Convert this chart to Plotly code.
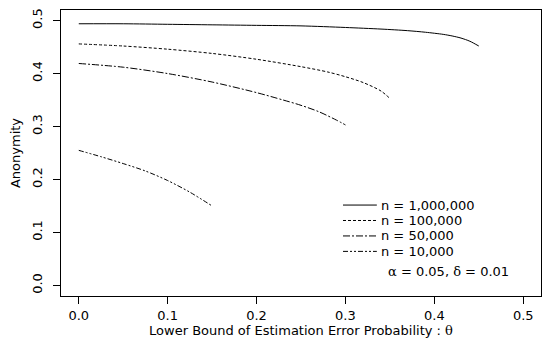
import plotly.graph_objects as go

# --- data ---
theta_1m = [0.0, 0.05, 0.10, 0.15, 0.20, 0.25, 0.30, 0.34, 0.37, 0.39, 0.41, 0.42, 0.43, 0.44, 0.45]
anon_1m = [0.494, 0.494, 0.493, 0.492, 0.491, 0.490, 0.487, 0.484, 0.481, 0.478, 0.474, 0.471, 0.467, 0.461, 0.452]

theta_100k = [0.0, 0.05, 0.10, 0.15, 0.20, 0.25, 0.28, 0.30, 0.32, 0.34, 0.35]
anon_100k = [0.456, 0.452, 0.446, 0.438, 0.427, 0.413, 0.403, 0.394, 0.383, 0.367, 0.353]

theta_50k = [0.0, 0.05, 0.10, 0.15, 0.20, 0.23, 0.25, 0.27, 0.29, 0.30]
anon_50k = [0.419, 0.412, 0.400, 0.384, 0.364, 0.350, 0.340, 0.328, 0.312, 0.303]

theta_10k = [0.0, 0.025, 0.05, 0.075, 0.10, 0.125, 0.15]
anon_10k = [0.255, 0.243, 0.230, 0.216, 0.198, 0.176, 0.150]

series_labels = ["n = 1,000,000", "n = 100,000", "n = 50,000", "n = 10,000"]
x_ticks = [0.0, 0.1, 0.2, 0.3, 0.4, 0.5]
y_ticks = [0.0, 0.1, 0.2, 0.3, 0.4, 0.5]
x_ticklabels = ["0.0", "0.1", "0.2", "0.3", "0.4", "0.5"]
y_ticklabels = ["0.0", "0.1", "0.2", "0.3", "0.4", "0.5"]

dashes = ["solid", "3px,2px", "7px,2px,2px,2px", "5px,2px,2px,2px,2px,2px"]
FONT = "DejaVu Sans, Verdana, sans-serif"
SERIF = "DejaVu Serif, Liberation Serif, serif"
FS = 13

fig = go.Figure()
xs = [theta_1m, theta_100k, theta_50k, theta_10k]
ys = [anon_1m, anon_100k, anon_50k, anon_10k]
for x, y, lab, d in zip(xs, ys, series_labels, dashes):
    fig.add_trace(go.Scatter(x=x, y=y, mode="lines", name=lab,
                             line=dict(color="black", width=1, dash=d, shape="spline", smoothing=0.8),
                             showlegend=False, hoverinfo="skip"))

# manual legend (R style, no box)
leg_y = [0.318, 0.264, 0.210, 0.156]
for lab, d, yy in zip(series_labels, dashes, leg_y):
    fig.add_shape(type="line", xref="paper", yref="paper", x0=0.5875, x1=0.658, y0=yy, y1=yy,
                  line=dict(color="black", width=1, dash=d))
    fig.add_annotation(xref="paper", yref="paper", x=0.662, y=yy, text=lab, showarrow=False,
                       xanchor="left", yanchor="middle", font=dict(family=FONT, size=FS, color="black"))
fig.add_annotation(xref="paper", yref="paper", x=0.677, y=0.087,
                   text=f'<span style="font-family:{SERIF}">α</span> = 0.05, <span style="font-family:{SERIF}">δ</span> = 0.01',
                   showarrow=False, xanchor="left", yanchor="middle", font=dict(family=FONT, size=FS, color="black"))

fig.update_layout(
    width=544, height=339,
    margin=dict(l=61, r=3, t=10, b=43),
    paper_bgcolor="white", plot_bgcolor="white",
    font=dict(family=FONT, size=FS, color="black"),
    showlegend=False,
)
fig.update_xaxes(range=[-0.02, 0.52], tickvals=x_ticks, ticktext=x_ticklabels,
                 ticks="outside", ticklen=7, tickwidth=1, tickcolor="black",
                 showline=True, mirror=True, linecolor="black", linewidth=1,
                 showgrid=False, zeroline=False,
                 title=dict(text=f'Lower Bound of Estimation Error Probability : <span style="font-family:{SERIF}">θ</span>',
                            font=dict(family=FONT, size=FS), standoff=3),
                 automargin=False)
fig.update_yaxes(range=[-0.02, 0.52], tickvals=y_ticks, ticktext=y_ticklabels, tickangle=-90,
                 ticks="outside", ticklen=7, tickwidth=1, tickcolor="black",
                 showline=True, mirror=True, linecolor="black", linewidth=1,
                 showgrid=False, zeroline=False, ticklabelstandoff=6,
                 title=dict(text="Anonymity", font=dict(family=FONT, size=FS), standoff=6),
                 automargin=False)

fig.write_html("out.html", post_script="document.body.style.margin='0';",
               config={"displayModeBar": False, "staticPlot": True})
